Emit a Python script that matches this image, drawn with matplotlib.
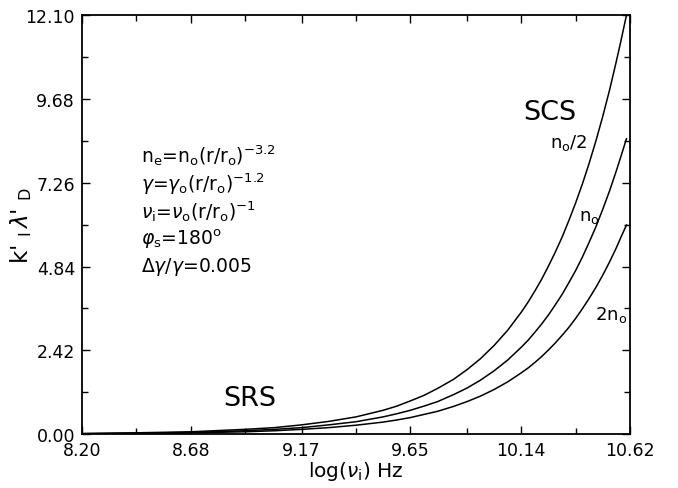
import numpy as np
import matplotlib
matplotlib.use("Agg")
import matplotlib.pyplot as plt

# values
log_nu = [8.20, 8.44, 8.68, 8.92, 9.05, 9.17, 9.29, 9.41, 9.53, 9.59, 9.65,
          9.71, 9.77, 9.84, 9.90, 9.96, 10.02, 10.08, 10.14, 10.17, 10.20,
          10.23, 10.26, 10.29, 10.32, 10.35, 10.38, 10.41, 10.44, 10.47,
          10.50, 10.53, 10.56, 10.58, 10.605]
k_half = [0.02, 0.04, 0.07, 0.14, 0.19, 0.27, 0.37, 0.50, 0.69, 0.81, 0.96,
          1.12, 1.32, 1.58, 1.86, 2.18, 2.56, 3.00, 3.52, 3.81, 4.13,
          4.47, 4.85, 5.25, 5.68, 6.16, 6.67, 7.22, 7.82, 8.47,
          9.17, 9.93, 10.76, 11.34, 12.10]
k_one = [0.015, 0.03, 0.05, 0.10, 0.14, 0.19, 0.27, 0.36, 0.50, 0.59, 0.69,
         0.81, 0.94, 1.14, 1.33, 1.56, 1.83, 2.14, 2.51, 2.71, 2.94,
         3.18, 3.44, 3.73, 4.03, 4.37, 4.72, 5.11, 5.54, 5.99,
         6.49, 7.02, 7.60, 8.01, 8.53]
k_two = [0.01, 0.02, 0.04, 0.07, 0.10, 0.14, 0.19, 0.26, 0.35, 0.41, 0.48,
         0.57, 0.66, 0.80, 0.94, 1.10, 1.29, 1.51, 1.77, 1.91, 2.07,
         2.24, 2.43, 2.63, 2.85, 3.08, 3.34, 3.62, 3.92, 4.24,
         4.59, 4.97, 5.38, 5.68, 6.04]

xticks = [8.20, 8.68, 9.17, 9.65, 10.14, 10.62]
yticks = [0.00, 2.42, 4.84, 7.26, 9.68, 12.10]

fig = plt.figure(figsize=(6.78, 4.89), dpi=100)
ax = fig.add_axes([0.121, 0.110, 0.808, 0.857])

for k in (k_half, k_one, k_two):
    ax.plot(log_nu, k, color="black", lw=1.1)

ax.set_xlim(8.20, 10.62)
ax.set_ylim(0, 12.10)
ax.set_xticks(xticks)
ax.set_xticklabels(["%.2f" % v for v in xticks])
ax.set_yticks(yticks)
ax.set_yticklabels(["%.2f" % v for v in yticks])
ax.set_xticks([8.44, 8.92, 9.41, 9.90, 10.38], minor=True)
ax.set_yticks([1.21, 3.63, 6.05, 8.47, 10.89], minor=True)
ax.tick_params(which="both", direction="in", top=True, right=True,
               labelsize=12.5, width=1)
ax.tick_params(which="major", length=6)
ax.tick_params(which="minor", length=4)
ax.tick_params(axis="x", pad=5)
ax.tick_params(axis="y", pad=5)
for s in ax.spines.values():
    s.set_linewidth(1.3)

ax.set_xlabel(r"log($\nu_{\rm i}$) Hz", fontsize=14.5, labelpad=0)
ax.set_ylabel(r"k' $_{\rm I}\,\lambda$' $_{\rm D}$", fontsize=16.5)
ax.yaxis.set_label_coords(-0.088, 0.50)

notes = [r"n$_{\rm e}$=n$_{\rm o}$(r/r$_{\rm o}$)$^{-3.2}$",
         r"$\gamma$=$\gamma_{\rm o}$(r/r$_{\rm o}$)$^{-1.2}$",
         r"$\nu_{\rm i}$=$\nu_{\rm o}$(r/r$_{\rm o}$)$^{-1}$",
         r"$\varphi_{\rm s}$=180$^{\rm o}$",
         r"$\Delta\gamma/\gamma$=0.005"]
note_y = [8.06, 7.26, 6.46, 5.66, 4.86]
for txt, yy in zip(notes, note_y):
    ax.text(8.46, yy, txt, fontsize=13.5, va="center", ha="left")

ax.text(10.265, 9.30, "SCS", fontsize=19.5, ha="center", va="center")
ax.text(8.942, 1.05, "SRS", fontsize=19.5, ha="center", va="center")
ax.text(10.347, 8.45, r"n$_{\rm o}$/2", fontsize=13, ha="center", va="center")
ax.text(10.439, 6.30, r"n$_{\rm o}$", fontsize=13, ha="center", va="center")
ax.text(10.537, 3.48, r"2n$_{\rm o}$", fontsize=13, ha="center", va="center")

fig.savefig("out.png", dpi=100)
